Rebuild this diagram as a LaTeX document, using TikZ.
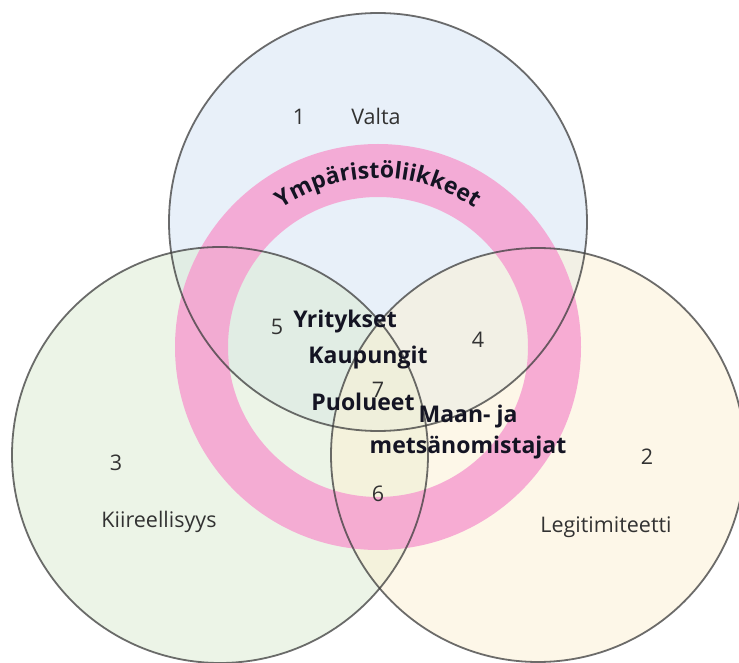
\documentclass[tikz,border=0pt]{standalone}
\usepackage{fontspec}
\setmainfont{Open Sans}
\usetikzlibrary{decorations.text}
\definecolor{topfill}{RGB}{211,227,245}
\definecolor{leftfill}{RGB}{219,235,209}
\definecolor{rightfill}{RGB}{253,241,211}
\definecolor{ringpink}{RGB}{246,160,208}
\definecolor{edgegray}{RGB}{60,60,60}
\definecolor{boldtxt}{RGB}{20,20,35}
\definecolor{regtxt}{RGB}{50,50,50}
\begin{document}
\begin{tikzpicture}[x=1pt,y=1pt,
  setfill/.style={fill=#1, fill opacity=0.5},
  setedge/.style={draw=edgegray, draw opacity=0.75, line width=1.8pt},
  lbl/.style={font=\fontsize{21.5}{25}\selectfont, text=regtxt, inner sep=0pt},
  blbl/.style={font=\fontsize{23}{31}\selectfont\bfseries, text=boldtxt, inner sep=0pt, align=center}]
\useasboundingbox (0,0) rectangle (739,662);
\fill[white] (0,0) rectangle (739,662);
% circle fills
\fill[setfill=topfill] (378,440) circle[radius=209pt];
\fill[setfill=leftfill] (220,207) circle[radius=208pt];
\fill[setfill=rightfill] (538,207) circle[radius=207pt];
% ring
\fill[ringpink, fill opacity=0.85, even odd rule] (378,315) circle[radius=203pt] (378,315) circle[radius=150pt];
% circle borders
\draw[setedge] (378,440) circle[radius=209pt];
\draw[setedge] (220,207) circle[radius=208pt];
\draw[setedge] (538,207) circle[radius=207pt];
% ring label
\path[decorate, decoration={text along path, text align=center,
  text={|\fontsize{23}{26}\selectfont\bfseries\color{boldtxt}|Ympäristöliikkeet}}]
  (378,315) ++(155:169pt) arc[start angle=155, end angle=25, radius=169pt];
% labels
\node[lbl] (n1) at (299,545) {1};
\node[lbl] (valta) at (376,546) {Valta};
\node[lbl] (n5) at (277,335) {5};
\node[blbl] (yri) at (345,340) {Yritykset};
\node[lbl] (n4) at (478,322) {4};
\node[blbl] (kau) at (368,304) {Kaupungit};
\node[lbl] (n7) at (378,272) {7};
\node[blbl] (puo) at (363,260) {Puolueet};
\node[blbl] (maa) at (468,230) {Maan- ja\\metsänomistajat};
\node[lbl] (n3) at (116,199) {3};
\node[lbl] (kii) at (159,140) {Kiireellisyys};
\node[lbl] (n2) at (647,205) {2};
\node[lbl] (leg) at (606,135) {Legitimiteetti};
\node[lbl] (n6) at (378,168) {6};
\end{tikzpicture}
\end{document}
